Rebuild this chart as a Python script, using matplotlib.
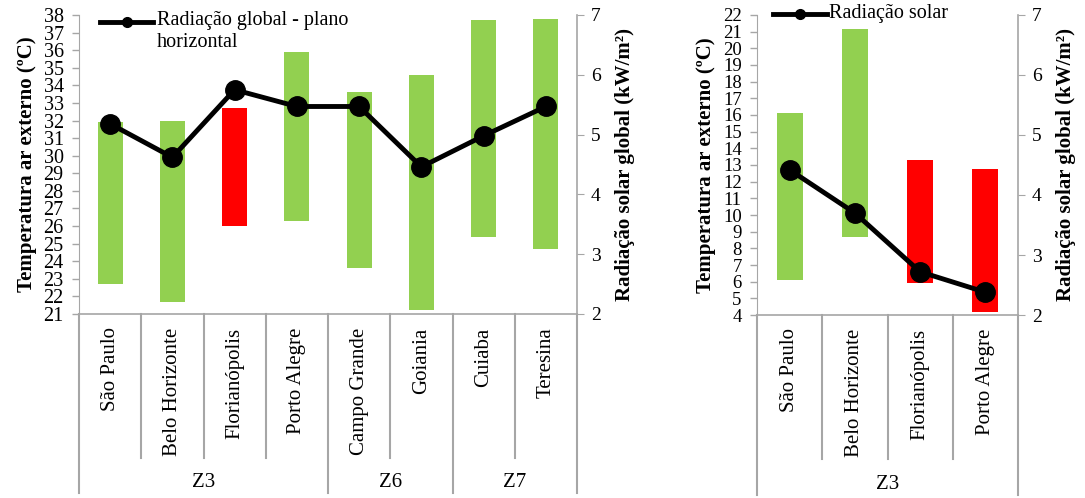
import matplotlib.pyplot as plt

plt.rcParams['font.family'] = ['Liberation Serif', 'DejaVu Serif']

# left chart data
cities_a = ['São Paulo', 'Belo Horizonte', 'Florianópolis', 'Porto Alegre',
            'Campo Grande', 'Goiania', 'Cuiaba', 'Teresina']
tmin_a = [22.7, 21.7, 26.0, 26.3, 23.6, 21.2, 25.4, 24.7]
tmax_a = [31.9, 32.0, 32.7, 35.9, 33.6, 34.6, 37.7, 37.8]
colors_a = ['g', 'g', 'r', 'g', 'g', 'g', 'g', 'g']
rad_a = [5.18, 4.62, 5.75, 5.47, 5.47, 4.46, 4.98, 5.47]
groups_a = [('Z3', 0, 4), ('Z6', 4, 6), ('Z7', 6, 8)]

# right chart data
cities_b = ['São Paulo', 'Belo Horizonte', 'Florianópolis', 'Porto Alegre']
tmin_b = [6.1, 8.65, 5.9, 4.2]
tmax_b = [16.1, 21.15, 13.3, 12.75]
colors_b = ['g', 'g', 'r', 'r']
rad_b = [4.42, 3.7, 2.72, 2.38]
groups_b = [('Z3', 0, 4)]

GREEN = '#92D050'
RED = '#FF0000'
GRAY = '#A6A6A6'

W, H = 1085, 498
fig = plt.figure(figsize=(W / 100, H / 100), dpi=100)


def make_chart(rect, cities, tmin, tmax, cols, rad, groups, ylim, legend_label, leg_x, tsize):
    ax = fig.add_axes(rect)
    n = len(cities)
    x = list(range(n))
    heights = [b - a for a, b in zip(tmin, tmax)]
    ax.bar(x, heights, bottom=tmin, width=0.4,
           color=[GREEN if c == 'g' else RED for c in cols], zorder=2)
    ax.set_xlim(-0.5, n - 0.5)
    ax.set_ylim(*ylim)
    ax.set_yticks(range(ylim[0], ylim[1] + 1))
    ax.tick_params(axis='y', labelsize=tsize, length=5, width=1, direction='out',
                   pad=6, color=GRAY)
    ax.set_xticks([])
    for s in ['top', 'right']:
        ax.spines[s].set_visible(False)
    ax.spines['left'].set_color(GRAY)
    ax.spines['bottom'].set_color(GRAY)
    ax.spines['bottom'].set_linewidth(1.2)
    ax.set_ylabel('Temperatura ar externo (ºC)', fontsize=15, fontweight='bold', labelpad=5)

    ax2 = ax.twinx()
    ax2.plot(x, rad, color='black', lw=3.5, marker='o', markersize=14, zorder=3)
    ax2.set_ylim(2, 7)
    ax2.set_yticks(range(2, 8))
    ax2.tick_params(axis='y', labelsize=14, length=5, direction='out', color=GRAY, pad=5)
    for s in ['top', 'left', 'bottom']:
        ax2.spines[s].set_visible(False)
    ax2.spines['right'].set_color(GRAY)
    ax2.spines['right'].set_linewidth(1.2)
    ax2.set_ylabel('Radiação solar global (kW/m²)', fontsize=15, fontweight='bold', labelpad=10)

    # legend drawn by hand so the handle sits on the first text line
    ta = ax2.transAxes
    x0, x1, ly = leg_x
    ax2.plot([x0, x1], [ly, ly], color='black', lw=3.5, transform=ta, clip_on=False)
    ax2.plot([(x0 + x1) / 2], [ly], 'o', color='black', markersize=7, transform=ta,
             clip_on=False)
    ax2.text(x1 + 0.008, ly + 0.035, legend_label, ha='left', va='top', fontsize=14.5,
             linespacing=1.15, transform=ta)

    tr = ax.get_xaxis_transform()
    # category labels
    for i, c in enumerate(cities):
        ax.text(i, -0.045, c, rotation=90, ha='center', va='top', fontsize=15, transform=tr)
    # separators
    bounds = set()
    for _, a, b in groups:
        bounds.add(a)
        bounds.add(b)
    for k in range(n + 1):
        y_end = -0.6 if k in bounds else -0.48
        ax.plot([k - 0.5, k - 0.5], [0, y_end], color=GRAY, lw=1.5,
                transform=tr, clip_on=False)
    for name, a, b in groups:
        ax.text((a + b - 1) / 2, -0.565, name, ha='center', va='center', fontsize=15,
                transform=tr)
    return ax, ax2


make_chart([79 / W, 1 - 314 / H, 498 / W, 299 / H], cities_a, tmin_a, tmax_a, colors_a,
           rad_a, groups_a, (21, 38), 'Radiação global - plano\nhorizontal',
           (0.042, 0.149, 0.977), 14.5)
make_chart([757 / W, 1 - 315 / H, 261 / W, 300 / H], cities_b, tmin_b, tmax_b, colors_b,
           rad_b, groups_b, (4, 22), 'Radiação solar', (0.061, 0.268, 1.003), 13.5)

fig.savefig('out.png', dpi=100)
